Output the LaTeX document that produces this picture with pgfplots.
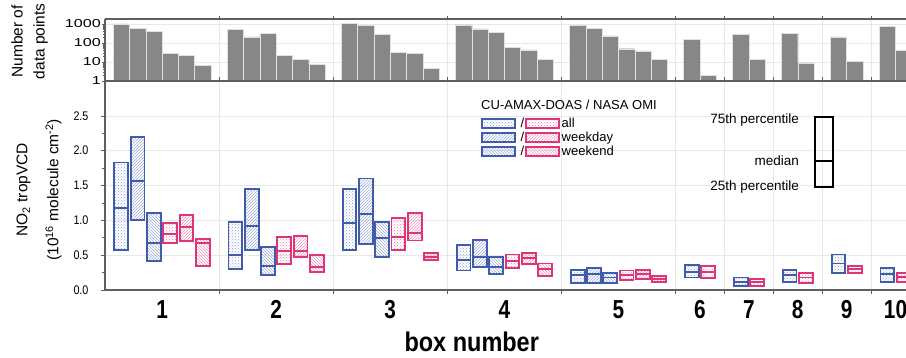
\documentclass[border=0pt]{standalone}
\usepackage{pgfplots}
\pgfplotsset{compat=1.18}
\usetikzlibrary{patterns}
\usepackage{fontspec}
\setmainfont{Liberation Sans}
\newfontfamily\narrowfont[FakeStretch=0.86]{Liberation Sans}
\newfontfamily\ticknarrow[FakeStretch=0.8]{Liberation Sans}
\newfontfamily\titlenarrow[FakeStretch=0.87]{Liberation Sans}
\newfontfamily\widefont[FakeStretch=1.4]{Liberation Sans}
\definecolor{cblue}{RGB}{66,92,172}
\definecolor{cpink}{RGB}{222,52,122}
\definecolor{cbar}{RGB}{135,135,135}
\definecolor{cgrid}{RGB}{232,232,232}
\definecolor{caxis}{RGB}{95,95,95}
\tikzset{
  bbase/.style={draw=cblue, line width=1.9pt, line join=miter},
  pbase/.style={draw=cpink, line width=1.9pt, line join=miter},
  ball/.style={bbase, pattern=crosshatch dots, pattern color=cblue!60},
  bwd/.style={bbase, pattern=north east lines, pattern color=cblue!50},
  bwe/.style={bbase, pattern=north west lines, pattern color=cblue!50},
  pall/.style={pbase, pattern=crosshatch dots, pattern color=cpink!60},
  pwd/.style={pbase, pattern=north east lines, pattern color=cpink!50},
  pwe/.style={pbase, pattern=north west lines, pattern color=cpink!50},
}
% box: position, 25th percentile, median, 75th percentile, style
\newcommand\bx[5]{%
  \pgfmathsetmacro\xl{#1-0.425}%
  \pgfmathsetmacro\xr{#1+0.425}%
  \edef\doit{\noexpand\addplot[forget plot,mark=none,#5] coordinates {(\xl,#2) (\xr,#2) (\xr,#4) (\xl,#4)} -- cycle;%
  \noexpand\addplot[forget plot,mark=none,#5,fill=none] coordinates {(\xl,#3) (\xr,#3)};}%
  \doit}
\newcommand\legimg[2]{\addlegendimage{legend image code/.code={%
  \draw[b#1, line width=1.5pt] (0pt,-4.5pt) rectangle (33pt,4.5pt);
  \node[inner sep=0pt, font=\fontsize{13}{13}\selectfont] at (38.5pt,0pt) {/};
  \draw[p#1, line width=1.5pt] (44pt,-4.5pt) rectangle (77pt,4.5pt);}}\addlegendentry{#2}}
\begin{document}
\begin{tikzpicture}
% ---------- top panel: number of data points ----------
\begin{axis}[
  at={(0pt,209pt)}, anchor=south west,
  scale only axis, width=815pt, height=62pt,
  xmin=0, xmax=50, ymode=log, ymin=1, ymax=1830,
  xtick={7,14,21,28,35,38,41,44,47,50}, xticklabels={},
  ytick={1,10,100,1000}, yticklabels={1,10,100,1000},
  minor ytick={2,3,4,5,6,7,8,9,20,30,40,50,60,70,80,90,200,300,400,500,600,700,800,900},
  xmajorgrids, ymajorgrids, grid style={cgrid, line width=0.6pt},
  tick align=outside, major tick length=3pt, minor tick length=1.5pt,
  tick style={caxis, line width=0.6pt},
  separate axis lines,
  every outer x axis line/.append style={caxis, line width=1.8pt},
  every outer y axis line/.append style={caxis, line width=1.2pt},
  /pgf/number format/assume math mode=true,
  yticklabel style={font=\widefont\fontsize{11.5}{11.5}\selectfont, inner sep=1pt},
  ylabel={Number of\\[3pt]data points},
  ylabel style={font=\fontsize{15.5}{19}\selectfont, align=center, at={(axis description cs:-0.070,0.64)}, anchor=south, inner sep=0pt},
]
\addplot[ybar, bar width=1, fill=cbar, draw=white!75!cbar, line width=0.4pt] coordinates {
 (1,1000) (2,590) (3,400) (4,29) (5,22) (6,6.7)
 (8,525) (9,208) (10,325) (11,22) (12,14) (13,7.6)
 (15,1100) (16,850) (17,275) (18,32) (19,29) (20,4.7)
 (22,890) (23,550) (24,350) (25,57) (26,43) (27,14)
 (29,815) (30,565) (31,240) (32,50) (33,38) (34,14)
 (36,155) (37,1.9) (39,275) (40,14) (42,310) (43,8.9)
 (45,208) (46,11) (48,760) (49,40)};
\end{axis}
% ---------- bottom panel: NO2 tropVCD box plots ----------
\begin{axis}[
  at={(0pt,0pt)}, anchor=south west,
  scale only axis, width=815pt, height=209pt,
  xmin=0, xmax=50, ymin=0, ymax=3,
  xtick={7,14,21,28,35,38,41,44,47,50}, xticklabels={},
  extra x ticks={3.5,10.5,17.5,24.5,31.5,36.5,39.5,42.5,45.5,48.5},
  extra x tick labels={1,2,3,4,5,6,7,8,9,10},
  extra x tick style={grid=none, major tick length=0pt},
  ytick={0,0.5,1,1.5,2,2.5}, yticklabels={0.0,0.5,1.0,1.5,2.0,2.5},
  minor y tick num=1,
  xmajorgrids, ymajorgrids, grid style={cgrid, line width=0.6pt},
  tick align=outside, major tick length=4pt, minor tick length=2.5pt,
  tick style={caxis, line width=0.6pt},
  separate axis lines,
  every outer x axis line/.append style={caxis, line width=1.8pt},
  every outer y axis line/.append style={caxis, line width=1.2pt},
  /pgf/number format/assume math mode=true,
  yticklabel style={font=\narrowfont\fontsize{12.5}{12.5}\selectfont, xshift=-9pt},
  xticklabel style={font=\ticknarrow\bfseries\fontsize{26}{26}\selectfont, yshift=-7pt},
  ylabel={NO\textsubscript{2} tropVCD\\[12pt](10\textsuperscript{16} molecule cm\textsuperscript{-2})},
  ylabel style={font=\fontsize{15.5}{19}\selectfont, align=center, at={(axis description cs:-0.053,0.48)}, anchor=south, inner sep=0pt},
  xlabel={box number},
  xlabel style={font=\titlenarrow\bfseries\fontsize{27}{27}\selectfont, at={(axis description cs:0.45,0)}, anchor=base, yshift=-62pt, inner sep=0pt},
  legend style={at={(axis cs:23.07,2.5)}, anchor=north west, draw=none, fill=none, inner sep=0pt, row sep=-1pt, font=\fontsize{13}{13}\selectfont, cells={anchor=west}},
  legend cell align=left,
]
\legimg{all}{all}
\legimg{wd}{weekday}
\legimg{we}{weekend}
% group 1
\bx{1}{0.58}{1.18}{1.83}{ball}
\bx{2}{1.00}{1.57}{2.20}{bwd}
\bx{3}{0.42}{0.68}{1.10}{bwe}
\bx{4}{0.68}{0.80}{0.96}{pall}
\bx{5}{0.70}{0.91}{1.08}{pwd}
\bx{6}{0.35}{0.68}{0.73}{pwe}
% group 2
\bx{8}{0.30}{0.50}{0.97}{ball}
\bx{9}{0.58}{0.92}{1.45}{bwd}
\bx{10}{0.215}{0.35}{0.62}{bwe}
\bx{11}{0.37}{0.565}{0.76}{pall}
\bx{12}{0.48}{0.565}{0.77}{pwd}
\bx{13}{0.26}{0.335}{0.50}{pwe}
% group 3
\bx{15}{0.575}{0.96}{1.45}{ball}
\bx{16}{0.66}{1.09}{1.60}{bwd}
\bx{17}{0.48}{0.74}{0.98}{bwe}
\bx{18}{0.575}{0.76}{1.03}{pall}
\bx{19}{0.71}{0.815}{1.11}{pwd}
\bx{20}{0.435}{0.48}{0.53}{pwe}
% group 4
\bx{22}{0.28}{0.43}{0.65}{ball}
\bx{23}{0.33}{0.47}{0.72}{bwd}
\bx{24}{0.23}{0.335}{0.48}{bwe}
\bx{25}{0.31}{0.41}{0.51}{pall}
\bx{26}{0.37}{0.455}{0.53}{pwd}
\bx{27}{0.205}{0.30}{0.38}{pwe}
% group 5
\bx{29}{0.105}{0.21}{0.29}{ball}
\bx{30}{0.105}{0.225}{0.31}{bwd}
\bx{31}{0.095}{0.18}{0.25}{bwe}
\bx{32}{0.145}{0.215}{0.28}{pall}
\bx{33}{0.155}{0.225}{0.29}{pwd}
\bx{34}{0.11}{0.16}{0.20}{pwe}
% groups 6-10
\bx{36}{0.18}{0.26}{0.36}{ball}
\bx{37}{0.17}{0.26}{0.345}{pall}
\bx{39}{0.06}{0.12}{0.18}{ball}
\bx{40}{0.06}{0.11}{0.16}{pall}
\bx{42}{0.11}{0.21}{0.29}{ball}
\bx{43}{0.105}{0.18}{0.24}{pall}
\bx{45}{0.25}{0.38}{0.51}{ball}
\bx{46}{0.24}{0.30}{0.345}{pall}
\bx{48}{0.12}{0.225}{0.31}{ball}
\bx{49}{0.12}{0.19}{0.25}{pall}
% key box (25th percentile, median, 75th percentile)
\addplot[forget plot, mark=none, draw=black, line width=1.9pt, line join=miter] coordinates {(43.56,1.476) (44.66,1.476) (44.66,2.48) (43.56,2.48)} -- cycle;
\addplot[forget plot, mark=none, draw=black, line width=1.9pt] coordinates {(43.56,1.853) (44.66,1.853)};
\node[anchor=east, inner sep=0pt, font=\fontsize{13.5}{13.5}\selectfont] at (axis cs:42.58,2.44) {75th percentile};
\node[anchor=east, inner sep=0pt, font=\fontsize{13.5}{13.5}\selectfont] at (axis cs:42.58,1.853) {median};
\node[anchor=east, inner sep=0pt, font=\fontsize{13.5}{13.5}\selectfont] at (axis cs:42.58,1.476) {25th percentile};
\node[anchor=base west, inner sep=0pt, font=\fontsize{13}{13}\selectfont] at (axis cs:23.07,2.593) {CU-AMAX-DOAS / NASA OMI};
\end{axis}
\pgfresetboundingbox
\useasboundingbox (-105pt,-68pt) rectangle (801pt,290pt);
\end{tikzpicture}
\end{document}
